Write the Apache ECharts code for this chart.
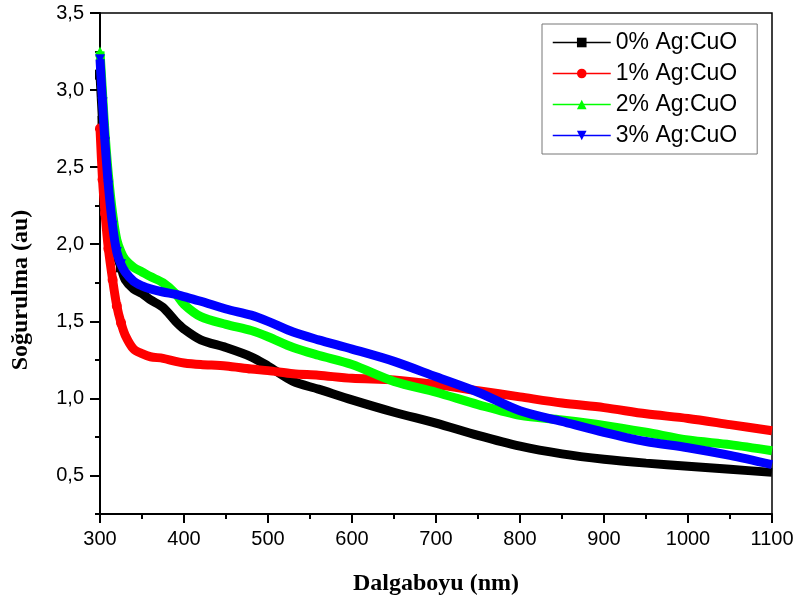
<!DOCTYPE html>
<html><head><meta charset="utf-8">
<script src="https://cdn.jsdelivr.net/npm/echarts@6/dist/echarts.min.js"></script>
<style>html,body{margin:0;padding:0;background:#fff}#c{width:799px;height:605px}</style>
</head><body><div id="c"></div><script>
const wavelength = [300,303,306,310,315,320,325,330,340,350,360,375,390,400,420,450,480,500,530,560,600,650,700,750,800,850,900,950,1000,1050,1100];
const ag0 = [3.10,2.80,2.50,2.25,2.05,1.93,1.85,1.77,1.71,1.68,1.64,1.59,1.50,1.45,1.38,1.33,1.27,1.21,1.11,1.06,0.99,0.91,0.84,0.76,0.69,0.64,0.605,0.58,0.56,0.54,0.52];
const ag1 = [2.75,2.42,2.20,1.97,1.77,1.60,1.49,1.41,1.32,1.29,1.27,1.26,1.24,1.23,1.22,1.21,1.19,1.18,1.16,1.15,1.13,1.12,1.09,1.05,1.01,0.97,0.94,0.90,0.87,0.83,0.79];
const ag2 = [3.25,2.98,2.72,2.45,2.20,2.03,1.95,1.90,1.85,1.82,1.79,1.75,1.68,1.61,1.53,1.48,1.44,1.40,1.33,1.28,1.22,1.11,1.04,0.96,0.89,0.86,0.825,0.78,0.73,0.70,0.66];
const ag3 = [3.20,2.92,2.66,2.38,2.12,1.95,1.87,1.82,1.76,1.73,1.71,1.69,1.675,1.66,1.63,1.58,1.54,1.50,1.43,1.38,1.32,1.24,1.14,1.04,0.92,0.85,0.78,0.72,0.68,0.63,0.57];
const seriesNames = ['0% Ag:CuO','1% Ag:CuO','2% Ag:CuO','3% Ag:CuO'];
const yMajorTicks = [0.5,1.0,1.5,2.0,2.5,3.0,3.5];
const yMinorTicks = [0.25,0.75,1.25,1.75,2.25,2.75,3.25];

const colors = ['#000000','#ff0000','#00ff00','#0000ff'];
const symbols = ['rect','circle','triangle','triangle'];
const rotations = [0,0,0,180];
const values = [ag0, ag1, ag2, ag3];

const chart = echarts.init(document.getElementById('c'), null, {renderer:'canvas'});
const series = values.map((vals, i) => ({
  name: seriesNames[i],
  type: 'line',
  smooth: 0.3,
  symbol: symbols[i],
  symbolSize: 10,
  symbolRotate: rotations[i],
  showSymbol: true,
  color: colors[i],
  lineStyle: {width: 9, color: colors[i]},
  itemStyle: {color: colors[i]},
  z: 2 + i,
  animation: false,
  data: wavelength.map((x, k) => {
    const p = {value: [x, vals[k]]};
    if (x > 325) p.symbol = 'none';
    return p;
  })
}));

const axisFont = {fontFamily: 'Liberation Sans, Arial', fontSize: 20, color: '#000'};
chart.setOption({
  backgroundColor: '#fff',
  animation: false,
  grid: {left: 100, right: 27, top: 13, bottom: 91, show: true, borderColor: '#000', borderWidth: 1.5, backgroundColor: 'transparent'},
  legend: {
    orient: 'vertical', left: 542, top: 24,
    padding: [7, 20, 7, 10],
    itemWidth: 58, itemHeight: 12, itemGap: 8,
    borderColor: '#777', borderWidth: 1,
    backgroundColor: '#fff',
    textStyle: {fontFamily: 'Liberation Sans, Arial', fontSize: 23, color: '#000'},
    lineStyle: {width: 1.5},
    data: seriesNames
  },
  xAxis: {
    type: 'value', min: 300, max: 1100, interval: 100,
    axisLine: {show: true, lineStyle: {color: '#000', width: 2}},
    axisTick: {show: true, length: 9, lineStyle: {color: '#000', width: 2}},
    minorTick: {show: true, splitNumber: 2, length: 5, lineStyle: {color: '#000', width: 2}},
    axisLabel: Object.assign({margin: 15, formatter: v => String(v)}, axisFont),
    splitLine: {show: false},
    name: 'Dalgaboyu (nm)', nameLocation: 'middle', nameGap: 58,
    nameTextStyle: {fontFamily: 'Liberation Serif, Times New Roman', fontWeight: 'bold', fontSize: 24, color: '#000'}
  },
  yAxis: [{
    type: 'value', min: 0.25, max: 3.5, position: 'left',
    axisLine: {show: true, lineStyle: {color: '#000', width: 2}},
    axisTick: {show: true, length: 10, customValues: yMajorTicks, lineStyle: {color: '#000', width: 2}},
    axisLabel: Object.assign({margin: 16, customValues: yMajorTicks, formatter: v => v.toFixed(1).replace('.', ',')}, axisFont),
    splitLine: {show: false}
  }, {
    type: 'value', min: 0.25, max: 3.5, position: 'left', offset: 0,
    axisLine: {show: false},
    axisTick: {show: true, length: 5, customValues: yMinorTicks, lineStyle: {color: '#000', width: 2}},
    axisLabel: {show: false},
    splitLine: {show: false}
  }],
  graphic: [{
    type: 'text', x: 21, y: 290, rotation: Math.PI / 2,
    style: {text: 'Soğurulma (au)', align: 'center', verticalAlign: 'middle',
      font: 'bold 24px "Liberation Serif", "Times New Roman", serif', fill: '#000'}
  }],
  series: series
});
</script></body></html>
